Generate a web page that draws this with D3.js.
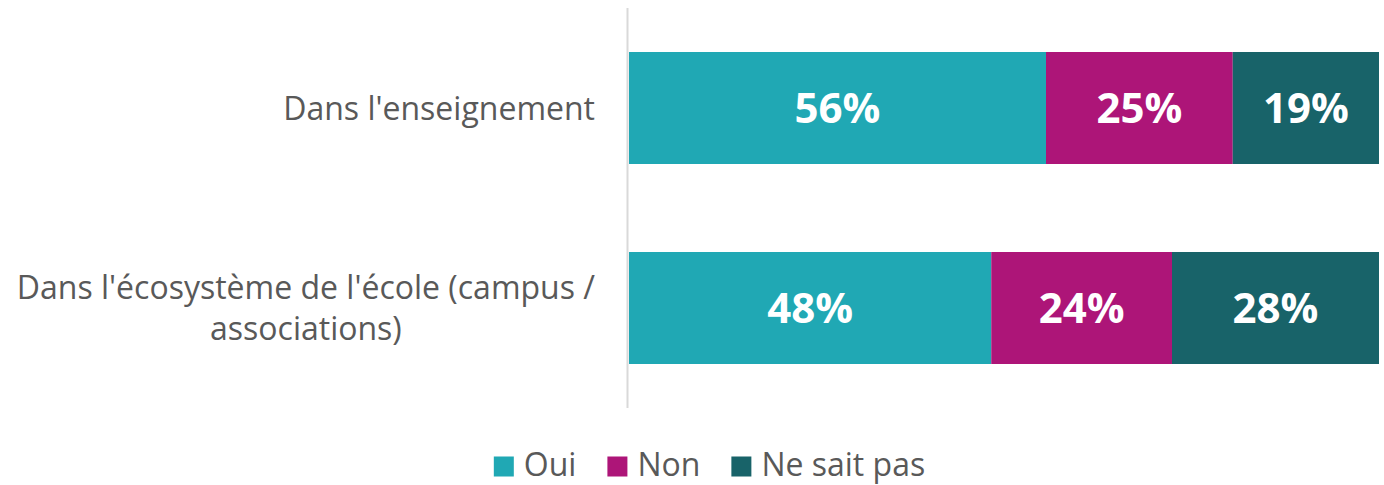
<!DOCTYPE html>
<html><head><meta charset="utf-8">
<script src="https://cdn.jsdelivr.net/npm/d3@7"></script>
<style>body{margin:0;background:#fff}svg{display:block}text{font-family:"Open Sans",sans-serif}</style>
</head><body>
<script>
const categories = ["Dans l'enseignement", "Dans l'écosystème de l'école (campus / associations)"];
const categoryLines = [["Dans l'enseignement"], ["Dans l'écosystème de l'école (campus /", "associations)"]];
const seriesNames = ["Oui", "Non", "Ne sait pas"];
const oui = [55.6, 48.3];
const non = [24.9, 24.1];
const nsp = [19.5, 27.6];
const valueLabels = [["56%", "25%", "19%"], ["48%", "24%", "28%"]];
const colors = ["#20A8B4", "#AD1578", "#186369"];

const W = 1384, H = 485;
const svg = d3.select("body").append("svg").attr("width", W).attr("height", H);
const x = d3.scaleLinear().domain([0, 100]).range([629, 1379]);
const y = d3.scaleBand().domain(categories).range([8, 408]).paddingInner(0.44).paddingOuter(0.22);

const rows = categories.map((c, i) => {
  const vals = [oui[i], non[i], nsp[i]];
  let acc = 0;
  return vals.map((v, j) => { const s = {cat: c, i, j, x0: acc, x1: acc + v, label: valueLabels[i][j]}; acc += v; return s; });
}).flat();

svg.selectAll("rect.bar").data(rows).join("rect").attr("class", "bar")
  .attr("x", d => x(d.x0)).attr("width", d => x(d.x1) - x(d.x0))
  .attr("y", d => y(d.cat)).attr("height", y.bandwidth())
  .attr("fill", d => colors[d.j]);

svg.selectAll("text.val").data(rows).join("text").attr("class", "val")
  .attr("x", d => (x(d.x0) + x(d.x1)) / 2).attr("y", d => y(d.cat) + y.bandwidth() / 2)
  .attr("dy", "0.36em").attr("text-anchor", "middle")
  .attr("fill", "#fff").attr("font-weight", 700).attr("font-size", 42)
  .text(d => d.label);

svg.append("line").attr("x1", 627.5).attr("x2", 627.5).attr("y1", 8).attr("y2", 408)
  .attr("stroke", "#d9d9d9").attr("stroke-width", 2);

// category labels
categories.forEach((c, i) => {
  const lines = categoryLines[i];
  const g = svg.append("g");
  const lh = 41;
  const cy = y(c) + y.bandwidth() / 2;
  const ts = lines.map((l, k) => g.append("text").attr("y", cy + (k - (lines.length - 1) / 2) * lh)
    .attr("dy", "0.36em").attr("font-size", 32).attr("fill", "#595959").attr("text-anchor", "middle").text(l));
  const maxW = d3.max(ts, t => t.node().getComputedTextLength());
  ts.forEach(t => t.attr("x", 595 - maxW / 2));
});

// legend
const legend = svg.append("g");
let lx = 0;
seriesNames.forEach((n, j) => {
  const g = legend.append("g");
  g.append("rect").attr("x", 0).attr("y", -8).attr("width", 20).attr("height", 20).attr("fill", colors[j]);
  const t = g.append("text").attr("x", 30).attr("dy", "0.36em").attr("font-size", 32).attr("fill", "#595959").text(n);
  const w = 30 + t.node().getComputedTextLength();
  g.attr("transform", `translate(${lx},0)`);
  lx += w + 31;
});
const total = lx - 31;
legend.attr("transform", `translate(${(W - total) / 2 + 17.5},464.5)`);
</script>
</body></html>
